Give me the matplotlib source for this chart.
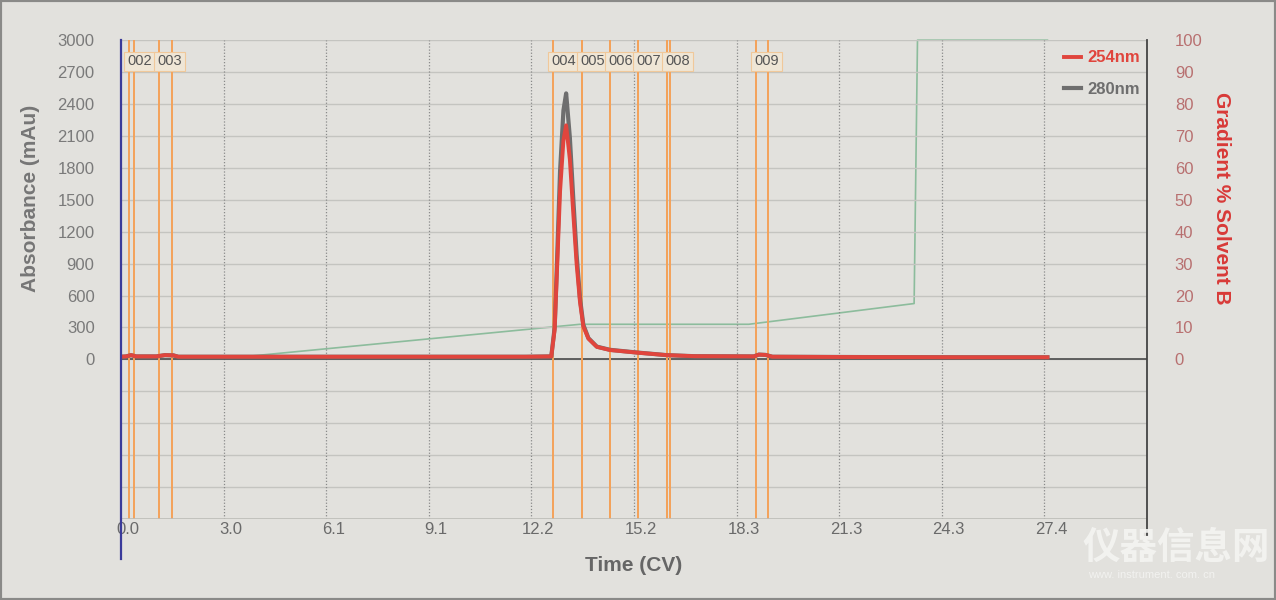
import matplotlib
matplotlib.use('Agg')
import matplotlib.pyplot as plt
import matplotlib.transforms as mtrans
from matplotlib.patches import Rectangle

plt.rcParams['font.family'] = ['Liberation Sans', 'DejaVu Sans']

# absorbance traces (CV, mAu)
t_280 = [0.0, 0.15, 0.3, 0.45, 1.05, 1.3, 1.55, 1.7, 3.0, 6.0, 9.0, 12.0, 12.75,
         12.85, 12.91, 13.01, 13.11, 13.19, 13.30, 13.40, 13.50, 13.60, 13.70,
         13.85, 14.10, 14.49, 15.28, 16.17, 17.0, 18.75, 18.9, 19.1, 19.3, 22.0,
         25.0, 27.45]
a_280 = [25, 28, 40, 28, 28, 40, 38, 25, 25, 25, 25, 25, 28,
         300, 830, 1770, 2340, 2500, 2085, 1520, 985, 575, 325,
         200, 120, 90, 65, 40, 30, 28, 45, 42, 25, 22,
         20, 20]

t_254 = [0.0, 0.15, 0.3, 0.45, 1.05, 1.3, 1.55, 1.7, 3.0, 6.0, 9.0, 12.0, 12.75,
         12.85, 12.91, 13.01, 13.11, 13.19, 13.30, 13.40, 13.50, 13.60, 13.70,
         13.85, 14.10, 14.49, 15.28, 16.17, 17.0, 18.75, 18.9, 19.1, 19.3, 22.0,
         25.0, 27.45]
a_254 = [25, 28, 40, 28, 28, 40, 38, 25, 25, 25, 25, 25, 28,
         280, 760, 1580, 2060, 2200, 1880, 1380, 900, 540, 310,
         195, 118, 88, 64, 40, 30, 28, 45, 42, 25, 22,
         20, 20]

# gradient (% solvent B)
t_grad = [0.0, 3.8, 13.6, 18.6, 23.5, 23.6, 27.45]
b_grad = [1, 1, 11, 11, 17.5, 100, 100]

# fractions: name, start, end (CV)
frac_names = ['002', '003', '004', '005', '006', '007', '008', '009']
frac_start = [0.24, 1.13, 12.80, 13.66, 14.49, 15.32, 16.18, 18.81]
frac_end = [0.39, 1.51, 13.66, 14.49, 15.32, 16.18, 16.27, 19.17]

xticks = [0.0, 3.04, 6.08, 9.12, 12.16, 15.2, 18.24, 21.28, 24.32, 27.36]
xlabels = ['0.0', '3.0', '6.1', '9.1', '12.2', '15.2', '18.3', '21.3', '24.3', '27.4']

bg = '#e2e1dd'
orange = '#f4a25a'
red = '#e0453d'
grey = '#6e6e6e'

fig = plt.figure(figsize=(12.76, 6), dpi=100, facecolor=bg)
fig.patches.append(Rectangle((0, 0), 1, 1, transform=fig.transFigure, fill=False,
                             ec='#8a8a88', lw=3))
ax = fig.add_axes([0.0948, 0.135, 0.8041, 0.798])

ax.set_xlim(0, 30.4)
ax.set_ylim(-1500, 3000)

# grid
for y in range(-1500, 3001, 300):
    ax.axhline(y, color='#c4c4c0', lw=1, zorder=0)
for x in xticks[1:]:
    ax.axvline(x, color='#8a8a8a', lw=0.9, ls=(0, (1, 1.5)), zorder=0)
ax.axhline(0, color='#555555', lw=1.3, zorder=1)

# fraction markers
for name, s, e in zip(frac_names, frac_start, frac_end):
    ax.axvline(s, color=orange, lw=1.4, zorder=2)
    ax.axvline(e, color=orange, lw=1.4, zorder=2)
    ax.text(s - 0.05, 2800, name, fontsize=10.5, color='#555555', ha='left', va='center',
            bbox=dict(boxstyle='square,pad=0.2', fc='#efe6d6', ec='#f0c89a', lw=0.8),
            zorder=3)

ax2 = ax.twinx()
ax2.set_ylim(-50, 100)
ax2.set_facecolor(bg)
ax2.plot(t_grad, b_grad, color='#8cbc9c', lw=1.2, clip_on=False, zorder=1)

ax.plot(t_254, a_254, color=red, lw=2.8, zorder=5, label='254nm')
ax.plot(t_280, a_280, color=grey, lw=3.0, zorder=4, label='280nm')
ax.set_zorder(ax2.get_zorder() + 1)
ax.patch.set_visible(False)

# axes lines
ax.plot([0, 0], [-1880, 3000], color='#3a3a9a', lw=1.6, clip_on=False, zorder=6)
ax.plot([30.4, 30.4], [-1650, 3000], color='#444444', lw=1.3, clip_on=False, zorder=6)
for a in (ax, ax2):
    for sp in a.spines.values():
        sp.set_visible(False)
ax.axhline(-1500, color='#bdbdb8', lw=1.2)

ax.set_xticks(xticks)
ax.set_xticklabels(xlabels, fontsize=12, color='#6a6a6a')
ax.tick_params(axis='x', length=0, pad=2)
shift = mtrans.ScaledTranslation(7 / 100, 0, fig.dpi_scale_trans)
for lab in ax.get_xticklabels():
    lab.set_transform(lab.get_transform() + shift)

yt = list(range(0, 3001, 300))
ax.set_yticks(yt)
ax.set_yticklabels([str(v) for v in yt], fontsize=12, color='#7a7a7a')
ax.tick_params(axis='y', length=0, pad=19)
rt = list(range(0, 101, 10))
ax2.set_yticks(rt)
ax2.set_yticklabels([str(v) for v in rt], fontsize=12, color='#b87070')
ax2.tick_params(axis='y', length=0, pad=20)

ax.set_ylabel('Absorbance (mAu)', fontsize=15, fontweight='bold', color='#767676',
              va='center')
ax.yaxis.set_label_coords(-0.088, 0.67)
ax2.set_ylabel('Gradient % Solvent B', fontsize=15, fontweight='bold', color='#d83a38',
               rotation=270, va='center')
ax2.yaxis.set_label_coords(1.073, 0.67)
ax.set_xlabel('Time (CV)', fontsize=15, fontweight='bold', color='#666666', labelpad=14)

# legend
leg = ax.legend(loc='upper right', bbox_to_anchor=(1.008, 1.01), frameon=False,
                fontsize=12, handlelength=1.0, handletextpad=0.4, labelspacing=1.0)
for txt, c in zip(leg.get_texts(), [red, grey]):
    txt.set_color(c)
    txt.set_fontweight('bold')

# watermark
fig.text(0.848, 0.088, '仪器信息网', fontsize=27, fontweight='bold', color='#f4f4f2',
         family=['Noto Sans CJK SC', 'DejaVu Sans'], ha='left', va='center', alpha=0.9)
fig.text(0.853, 0.042, 'www. instrument. com. cn', fontsize=8, color='#f4f4f2',
         ha='left', va='center', alpha=0.9)

plt.savefig('out.png', dpi=100, facecolor=bg)
